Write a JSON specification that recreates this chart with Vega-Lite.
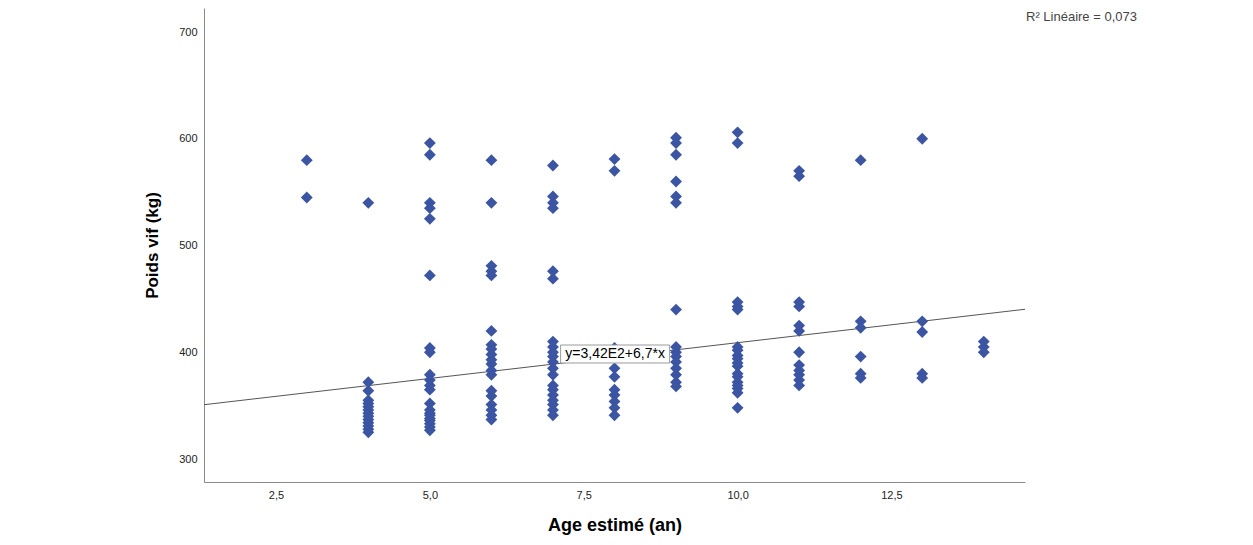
{
  "$schema": "https://vega.github.io/schema/vega-lite/v6.json",
  "width": 821,
  "height": 474,
  "autosize": {"type": "none"},
  "padding": {"left": 204, "top": 8, "right": 228, "bottom": 63},
  "background": "white",
  "config": {
    "view": {"stroke": null},
    "font": "Liberation Sans",
    "axis": {
      "domainColor": "#8a8a8a",
      "domainWidth": 1,
      "ticks": false,
      "grid": false,
      "labelFont": "Liberation Sans",
      "labelFontSize": 11,
      "labelColor": "#222222",
      "titleFont": "Liberation Sans",
      "titleFontSize": 17,
      "titleFontWeight": "bold",
      "titleColor": "#000000"
    }
  },
  "datasets": {
    "points": [
      {"age": 3, "poids": 580}, {"age": 3, "poids": 545},
      {"age": 4, "poids": 540}, {"age": 4, "poids": 372}, {"age": 4, "poids": 364}, {"age": 4, "poids": 355}, {"age": 4, "poids": 352}, {"age": 4, "poids": 349}, {"age": 4, "poids": 346}, {"age": 4, "poids": 343}, {"age": 4, "poids": 340}, {"age": 4, "poids": 337}, {"age": 4, "poids": 334}, {"age": 4, "poids": 331}, {"age": 4, "poids": 328}, {"age": 4, "poids": 325},
      {"age": 5, "poids": 596}, {"age": 5, "poids": 585}, {"age": 5, "poids": 540}, {"age": 5, "poids": 535}, {"age": 5, "poids": 525}, {"age": 5, "poids": 472}, {"age": 5, "poids": 404}, {"age": 5, "poids": 400}, {"age": 5, "poids": 379}, {"age": 5, "poids": 374}, {"age": 5, "poids": 369}, {"age": 5, "poids": 365}, {"age": 5, "poids": 352}, {"age": 5, "poids": 346}, {"age": 5, "poids": 343}, {"age": 5, "poids": 341}, {"age": 5, "poids": 338}, {"age": 5, "poids": 336}, {"age": 5, "poids": 333}, {"age": 5, "poids": 330}, {"age": 5, "poids": 327},
      {"age": 6, "poids": 580}, {"age": 6, "poids": 540}, {"age": 6, "poids": 481}, {"age": 6, "poids": 476}, {"age": 6, "poids": 472}, {"age": 6, "poids": 420}, {"age": 6, "poids": 407}, {"age": 6, "poids": 403}, {"age": 6, "poids": 398}, {"age": 6, "poids": 393}, {"age": 6, "poids": 389}, {"age": 6, "poids": 383}, {"age": 6, "poids": 379}, {"age": 6, "poids": 364}, {"age": 6, "poids": 359}, {"age": 6, "poids": 351}, {"age": 6, "poids": 346}, {"age": 6, "poids": 341}, {"age": 6, "poids": 337},
      {"age": 7, "poids": 575}, {"age": 7, "poids": 546}, {"age": 7, "poids": 540}, {"age": 7, "poids": 535}, {"age": 7, "poids": 476}, {"age": 7, "poids": 469}, {"age": 7, "poids": 410}, {"age": 7, "poids": 405}, {"age": 7, "poids": 400}, {"age": 7, "poids": 396}, {"age": 7, "poids": 391}, {"age": 7, "poids": 385}, {"age": 7, "poids": 379}, {"age": 7, "poids": 369}, {"age": 7, "poids": 365}, {"age": 7, "poids": 360}, {"age": 7, "poids": 355}, {"age": 7, "poids": 351}, {"age": 7, "poids": 346}, {"age": 7, "poids": 341},
      {"age": 8, "poids": 581}, {"age": 8, "poids": 570}, {"age": 8, "poids": 404}, {"age": 8, "poids": 396}, {"age": 8, "poids": 385}, {"age": 8, "poids": 377}, {"age": 8, "poids": 365}, {"age": 8, "poids": 360}, {"age": 8, "poids": 354}, {"age": 8, "poids": 348}, {"age": 8, "poids": 341},
      {"age": 9, "poids": 601}, {"age": 9, "poids": 596}, {"age": 9, "poids": 585}, {"age": 9, "poids": 560}, {"age": 9, "poids": 546}, {"age": 9, "poids": 540}, {"age": 9, "poids": 440}, {"age": 9, "poids": 405}, {"age": 9, "poids": 400}, {"age": 9, "poids": 396}, {"age": 9, "poids": 391}, {"age": 9, "poids": 385}, {"age": 9, "poids": 379}, {"age": 9, "poids": 372}, {"age": 9, "poids": 368},
      {"age": 10, "poids": 606}, {"age": 10, "poids": 596}, {"age": 10, "poids": 447}, {"age": 10, "poids": 443}, {"age": 10, "poids": 440}, {"age": 10, "poids": 405}, {"age": 10, "poids": 402}, {"age": 10, "poids": 397}, {"age": 10, "poids": 394}, {"age": 10, "poids": 390}, {"age": 10, "poids": 387}, {"age": 10, "poids": 380}, {"age": 10, "poids": 377}, {"age": 10, "poids": 372}, {"age": 10, "poids": 369}, {"age": 10, "poids": 366}, {"age": 10, "poids": 362}, {"age": 10, "poids": 348},
      {"age": 11, "poids": 570}, {"age": 11, "poids": 565}, {"age": 11, "poids": 447}, {"age": 11, "poids": 443}, {"age": 11, "poids": 425}, {"age": 11, "poids": 420}, {"age": 11, "poids": 400}, {"age": 11, "poids": 388}, {"age": 11, "poids": 383}, {"age": 11, "poids": 379}, {"age": 11, "poids": 374}, {"age": 11, "poids": 369},
      {"age": 12, "poids": 580}, {"age": 12, "poids": 429}, {"age": 12, "poids": 423}, {"age": 12, "poids": 396}, {"age": 12, "poids": 380}, {"age": 12, "poids": 376},
      {"age": 13, "poids": 600}, {"age": 13, "poids": 429}, {"age": 13, "poids": 419}, {"age": 13, "poids": 380}, {"age": 13, "poids": 376},
      {"age": 14, "poids": 410}, {"age": 14, "poids": 405}, {"age": 14, "poids": 400}
    ],
    "fit": [
      {"age": 1.33, "poids": 350.9},
      {"age": 14.67, "poids": 440.3}
    ],
    "equation": [{"label": "y=3,42E2+6,7*x"}],
    "rsq": [{"label": "R² Linéaire = 0,073"}]
  },
  "layer": [
    {
      "data": {"name": "fit"},
      "mark": {"type": "line", "color": "#555555", "strokeWidth": 1},
      "encoding": {
        "x": {
          "field": "age", "type": "quantitative",
          "scale": {"domain": [1.33, 14.67], "nice": false, "zero": false},
          "axis": {
            "title": "Age estimé (an)",
            "titleFontSize": 18,
            "values": [2.5, 5, 7.5, 10, 12.5],
            "labelExpr": "replace(format(datum.value, '.1f'), '.', ',')",
            "labelPadding": 7,
            "titlePadding": 16
          }
        },
        "y": {
          "field": "poids", "type": "quantitative",
          "scale": {"domain": [278.5, 722.5], "nice": false, "zero": false},
          "axis": {
            "title": "Poids vif (kg)",
            "values": [300, 400, 500, 600, 700],
            "format": "d",
            "labelPadding": 7,
            "titlePadding": 17
          }
        }
      }
    },
    {
      "data": {"name": "points"},
      "mark": {"type": "point", "shape": "diamond", "filled": true, "size": 140, "color": "#3B55A3", "opacity": 1},
      "encoding": {
        "x": {"field": "age", "type": "quantitative"},
        "y": {"field": "poids", "type": "quantitative"}
      }
    },
    {
      "data": {"name": "equation"},
      "mark": {"type": "point", "shape": "M-1,-0.165H1V0.165H-1Z", "size": 11881, "filled": true, "fill": "white", "stroke": "#9a9a9a", "strokeWidth": 1, "opacity": 1},
      "encoding": {
        "x": {"datum": 8.01},
        "y": {"datum": 398.4}
      }
    },
    {
      "data": {"name": "equation"},
      "mark": {"type": "text", "font": "Liberation Sans", "fontSize": 14, "color": "#000000", "align": "center", "baseline": "middle"},
      "encoding": {
        "x": {"datum": 8.01},
        "y": {"datum": 398.4},
        "text": {"field": "label"}
      }
    },
    {
      "data": {"name": "rsq"},
      "mark": {"type": "text", "font": "Liberation Sans", "fontSize": 13, "color": "#444444", "align": "left", "baseline": "middle", "dx": 1},
      "encoding": {
        "x": {"datum": 14.67},
        "y": {"datum": 714},
        "text": {"field": "label"}
      }
    }
  ]
}
